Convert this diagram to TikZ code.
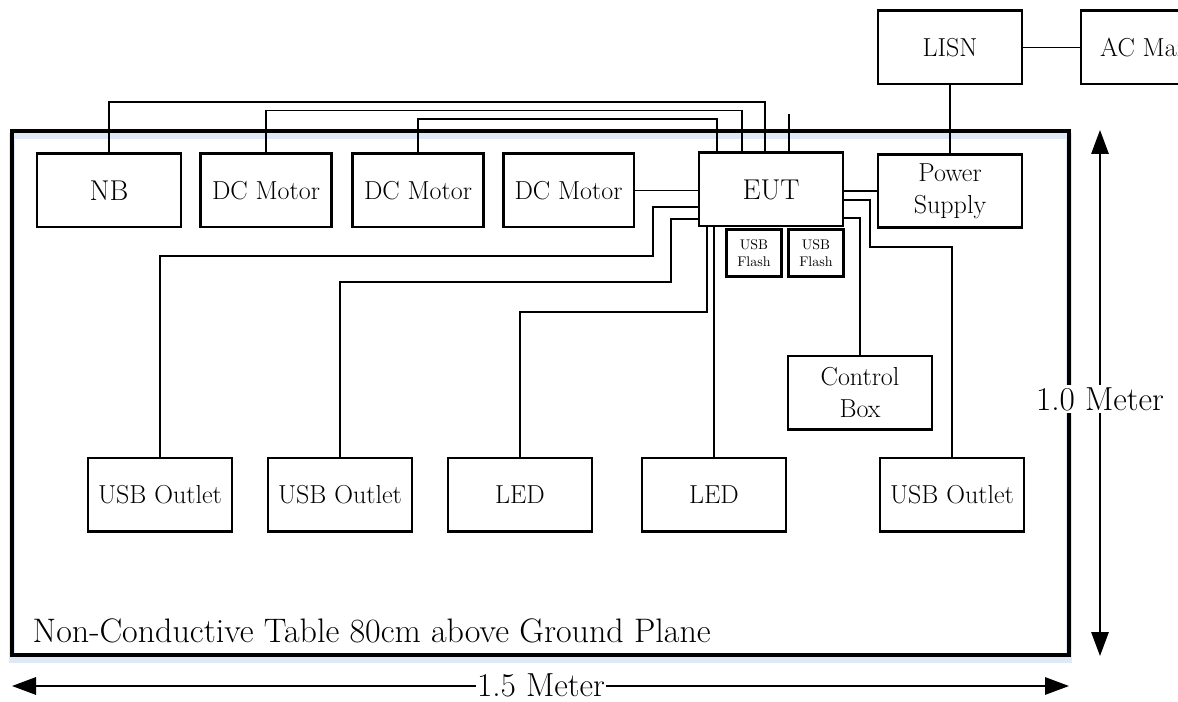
\documentclass[tikz,border=0pt]{standalone}
\usetikzlibrary{arrows.meta}
\definecolor{shadowblue}{RGB}{222,232,246}
\begin{document}
\begin{tikzpicture}[x=0.75pt,y=-0.75pt,
  box/.style={draw, line width=2pt, minimum width=108pt, minimum height=55pt, inner sep=0pt, align=center, font=\fontsize{19.5}{24}\selectfont},
  motor/.style={box, minimum width=98pt},
  bigtext/.style={font=\fontsize{21.5}{25}\selectfont},
  flash/.style={draw, line width=2pt, minimum width=41pt, minimum height=35pt, inner sep=0pt, align=center, font=\fontsize{10.5}{12.5}\selectfont},
  wire/.style={line width=1.25pt},
  dimarrow/.style={line width=1.5pt, {Triangle[length=18pt,width=13pt]}-{Triangle[length=18pt,width=13pt]}},
  dimlabel/.style={fill=white, inner sep=2pt, font=\fontsize{25}{29}\selectfont}]
\useasboundingbox (0,0) rectangle (1178,702);
\clip (0,0) rectangle (1178,702);
% table
\draw[line width=4pt, color=shadowblue] (12,136) rectangle (1069,660);
\draw[line width=3.5pt] (12,131) rectangle (1069,655);
\node[anchor=base west, font=\fontsize{25.5}{29}\selectfont] (tlabel) at (28,642) {Non-Conductive Table 80cm above Ground Plane};
% nodes
\node[box, bigtext] (NB) at (109,190.5) {NB};
\node[motor] (DCM1) at (266,190.5) {DC Motor};
\node[motor] (DCM2) at (418,190.5) {DC Motor};
\node[motor] (DCM3) at (568.5,190.5) {DC Motor};
\node[box, bigtext] (EUT) at (771,189.5) {EUT};
\node[box] (PS) at (950,191) {Power\\Supply};
\node[box] (LISN) at (950,47.5) {LISN};
\node[box] (AC) at (1153,47.5) {AC Mains};
\node[flash] (F1) at (754,253) {USB\\Flash};
\node[flash] (F2) at (816,253) {USB\\Flash};
\node[box] (CB) at (860,392.5) {Control\\Box};
\node[box] (USB1) at (160,494.5) {USB Outlet};
\node[box] (USB2) at (340,494.5) {USB Outlet};
\node[box] (LED1) at (520,494.5) {LED};
\node[box] (LED2) at (714,494.5) {LED};
\node[box] (USB3) at (952,494.5) {USB Outlet};
% wires on top
\draw[wire] (NB.north) |- (765,102) -- (EUT.north -| 765,0);
\draw[wire] (DCM1.north) |- (742,110.5) -- (EUT.north -| 742,0);
\draw[wire] (DCM2.north) |- (717,119) -- (EUT.north -| 717,0);
\coordinate (stub) at (789,114);
\draw[wire] (stub) -- (stub |- EUT.north);
\draw[wire] (DCM3.east) -- (EUT.west |- DCM3.east);
\draw[wire] (EUT.east |- PS.west) -- (PS.west);
\draw[wire] (LISN.south) -- (PS.north);
\draw[wire] (LISN.east) -- (AC.west);
% wires to the bottom row
\draw[wire] (EUT.west |- 0,207) -| (653,256) -| (USB1.north);
\draw[wire] (EUT.west |- 0,219) -| (671,282) -| (USB2.north);
\draw[wire] (EUT.south -| 707,0) |- (520,312) -- (LED1.north);
\draw[wire] (EUT.south -| LED2.north) -- (LED2.north);
\draw[wire] (EUT.east |- 0,200) -| (870,247) -| (USB3.north);
\draw[wire] (EUT.east |- 0,218) -| (CB.north);
% dimensions
\coordinate (vtop) at (1100,130);
\coordinate (vbot) at (1100,656);
\draw[dimarrow] (vtop) -- (vbot);
\node[dimlabel] (vlab) at (1100,399) {1.0 Meter};
\coordinate (hleft) at (12,686);
\coordinate (hright) at (1069,686);
\draw[dimarrow] (hleft) -- (hright);
\node[dimlabel, inner sep=0.5pt] (hlab) at (541,685) {1.5 Meter};
\end{tikzpicture}
\end{document}
